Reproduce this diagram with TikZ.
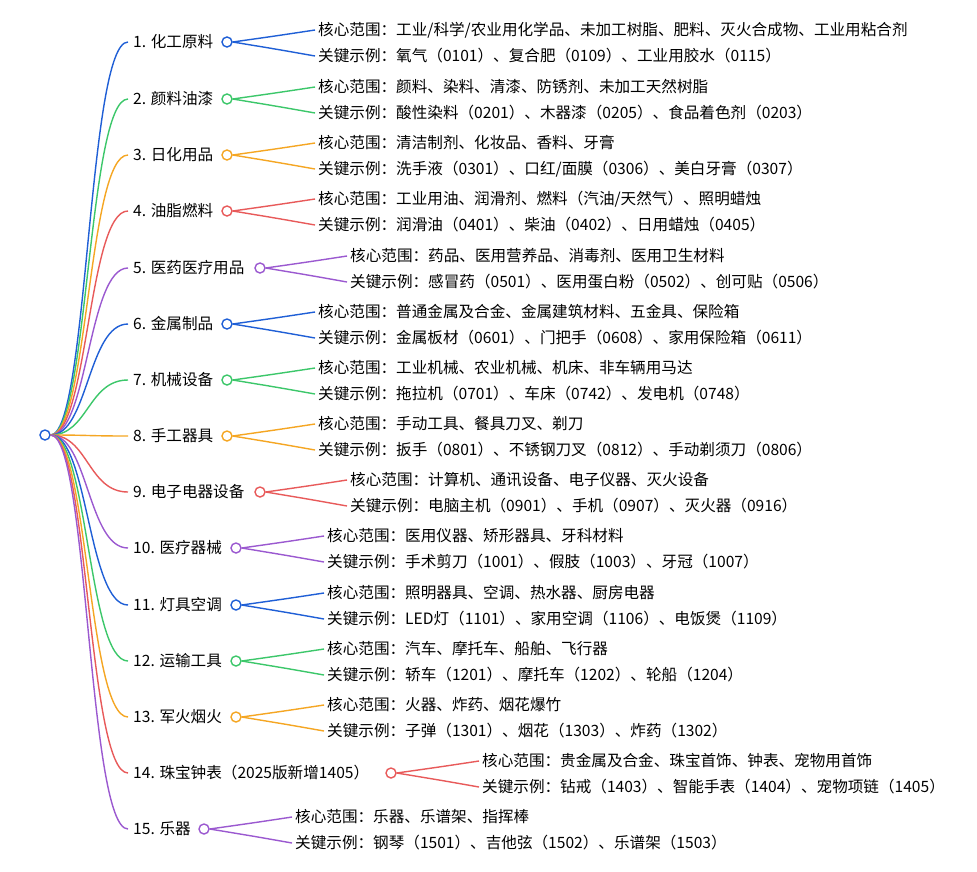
\documentclass[tikz,border=0pt]{standalone}
\usepackage{fontspec}
\setmainfont{Noto Sans CJK SC}
\definecolor{cb}{HTML}{1F5FD6}
\definecolor{cg}{HTML}{3CC76A}
\definecolor{co}{HTML}{F5A623}
\definecolor{cr}{HTML}{E85A5A}
\definecolor{cp}{HTML}{9B59D0}
\tikzset{lbl/.style={anchor=west,inner sep=0pt,font=\fontsize{15.6}{17}\selectfont},
 dot/.style={circle,draw,fill=white,line width=1.4pt,minimum size=10pt,inner sep=0pt},
 ln/.style={line width=1.4pt}}
\newcommand\mybr[8]{%
 \node[lbl] (lab#1) at (133,#2) {#4};
 \node[dot,draw=#3] (c#1) at (#5,#2) {};
 \node[lbl] (k#1) at (#6,#2-12) {核心范围：#7};
 \node[lbl] (e#1) at (#6,#2+14) {关键示例：#8};
 \coordinate (s#1) at (128,#2);
 \draw[ln,#3] (root.east) .. controls (88,435) and (88,#2) .. (s#1);
 \draw[ln,#3] (c#1.east) .. controls ($(c#1.east)!0.5!(k#1.west)$|-c#1) and ($(c#1.east)!0.5!(k#1.west)$|-k#1) .. ([xshift=-3pt]k#1.west);
 \draw[ln,#3] (c#1.east) .. controls ($(c#1.east)!0.5!(e#1.west)$|-c#1) and ($(c#1.east)!0.5!(e#1.west)$|-e#1) .. ([xshift=-3pt]e#1.west);
}
\usetikzlibrary{calc}
\begin{document}
\begin{tikzpicture}[x=1pt,y=-1pt]
\useasboundingbox[fill=white] (0,0) rectangle (977,871);
\node[dot,draw=cb] (root) at (45,435) {};
\mybr{1}{42}{cb}{1. 化工原料}{227}{318}{工业/科学/农业用化学品、未加工树脂、肥料、灭火合成物、工业用粘合剂}{氧气（0101）、复合肥（0109）、工业用胶水（0115）}
\mybr{2}{99}{cg}{2. 颜料油漆}{227}{318}{颜料、染料、清漆、防锈剂、未加工天然树脂}{酸性染料（0201）、木器漆（0205）、食品着色剂（0203）}
\mybr{3}{155}{co}{3. 日化用品}{227}{318}{清洁制剂、化妆品、香料、牙膏}{洗手液（0301）、口红/面膜（0306）、美白牙膏（0307）}
\mybr{4}{211}{cr}{4. 油脂燃料}{227}{318}{工业用油、润滑剂、燃料（汽油/天然气）、照明蜡烛}{润滑油（0401）、柴油（0402）、日用蜡烛（0405）}
\mybr{5}{268}{cp}{5. 医药医疗用品}{260}{350}{药品、医用营养品、消毒剂、医用卫生材料}{感冒药（0501）、医用蛋白粉（0502）、创可贴（0506）}
\mybr{6}{324}{cb}{6. 金属制品}{227}{318}{普通金属及合金、金属建筑材料、五金具、保险箱}{金属板材（0601）、门把手（0608）、家用保险箱（0611）}
\mybr{7}{380}{cg}{7. 机械设备}{227}{318}{工业机械、农业机械、机床、非车辆用马达}{拖拉机（0701）、车床（0742）、发电机（0748）}
\mybr{8}{436}{co}{8. 手工器具}{227}{318}{手动工具、餐具刀叉、剃刀}{扳手（0801）、不锈钢刀叉（0812）、手动剃须刀（0806）}
\mybr{9}{492}{cr}{9. 电子电器设备}{260}{350}{计算机、通讯设备、电子仪器、灭火设备}{电脑主机（0901）、手机（0907）、灭火器（0916）}
\mybr{10}{548}{cp}{10. 医疗器械}{236}{327}{医用仪器、矫形器具、牙科材料}{手术剪刀（1001）、假肢（1003）、牙冠（1007）}
\mybr{11}{605}{cb}{11. 灯具空调}{236}{327}{照明器具、空调、热水器、厨房电器}{LED灯（1101）、家用空调（1106）、电饭煲（1109）}
\mybr{12}{661}{cg}{12. 运输工具}{236}{327}{汽车、摩托车、船舶、飞行器}{轿车（1201）、摩托车（1202）、轮船（1204）}
\mybr{13}{717}{co}{13. 军火烟火}{236}{327}{火器、炸药、烟花爆竹}{子弹（1301）、烟花（1303）、炸药（1302）}
\mybr{14}{773}{cr}{14. 珠宝钟表（2025版新增1405）}{391}{482}{贵金属及合金、珠宝首饰、钟表、宠物用首饰}{钻戒（1403）、智能手表（1404）、宠物项链（1405）}
\mybr{15}{829}{cp}{15. 乐器}{204}{295}{乐器、乐谱架、指挥棒}{钢琴（1501）、吉他弦（1502）、乐谱架（1503）}
\end{tikzpicture}
\end{document}
